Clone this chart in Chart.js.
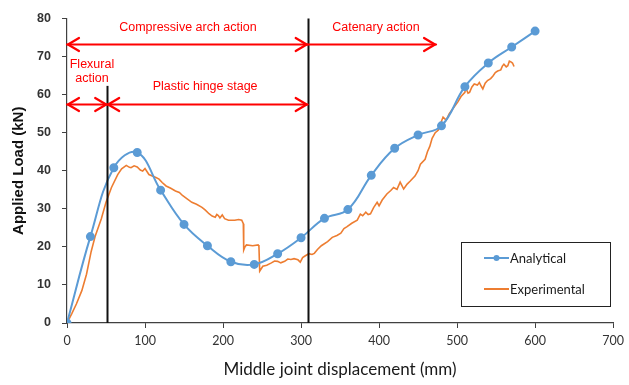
<!DOCTYPE html>
<html>
<head>
<meta charset="utf-8">
<script src="https://cdn.jsdelivr.net/npm/chart.js@4.4.1/dist/chart.umd.min.js"></script>
<style>
  html, body { margin: 0; padding: 0; background: #fff; }
  #wrap { width: 629px; height: 385px; }
</style>
</head>
<body>
<div id="wrap"><canvas id="chart" width="629" height="385"></canvas></div>
<script>
// ── Data ─────────────────────────────────────────────────────────────────────
const ANA_X = [0, 30, 60, 90, 120, 150, 180, 210, 240, 270, 300, 330, 360, 390, 420, 450, 480, 510, 540, 570, 600];
const ANA_Y = [0, 22.7, 40.8, 44.8, 34.9, 25.9, 20.3, 16.1, 15.4, 18.2, 22.4, 27.5, 29.8, 38.8, 45.9, 49.4, 51.8, 62.1, 68.3, 72.5, 76.7];

const EXP_X = [0, 6, 12, 19, 25, 31, 36, 44, 50, 57, 65, 70, 76, 80, 82, 86, 90, 94, 97, 100, 105, 114, 118, 122, 127,
  133, 139, 144, 148, 154, 160, 166, 173, 177, 182, 186, 190, 192, 194, 196, 199, 202, 207, 215, 220, 224, 226, 226.5,
  228, 230, 238, 245, 246, 247, 251, 256, 262, 266, 270, 274, 279, 283, 287, 291, 296, 299, 302, 305, 310, 314, 317,
  321, 326, 334, 340, 346, 351, 355, 359, 365, 372, 376, 379, 383, 386, 389, 393, 397.5, 400, 404, 410, 415, 418.6,
  423, 427, 429, 431.5, 436, 440, 446, 450, 453, 459, 462, 465, 468, 472, 476, 479, 482, 486, 490, 495, 501, 505, 510,
  511, 514, 516, 519, 522, 526, 528.5, 531, 533, 536, 539, 543, 546, 549, 552, 556, 558, 560, 563, 565, 567, 569, 571, 573];
const EXP_Y = [0, 2.4, 5, 8.5, 12.8, 18.8, 22.7, 27.4, 31.7, 35.6, 39, 40.5, 41.4, 40.9, 40.8, 41.3, 41, 40.2, 39.9, 40.6,
  39, 38.2, 37.8, 36.9, 36, 35.4, 34.7, 34.3, 33.5, 32.6, 31.7, 31.2, 30.4, 29.7, 28.7, 28.1, 27.8, 28.5, 28.2, 27.6,
  28.4, 27.4, 27, 27, 27.2, 27, 26.1, 19.2, 20, 20.5, 20.3, 20.5, 20.2, 13.6, 14.9, 15.2, 15.8, 16.3, 16.2, 15.8, 16.2,
  16.8, 16.7, 16.9, 16.6, 16, 17.2, 17.6, 18.2, 18, 18.3, 19.3, 20.3, 21.4, 22.5, 23, 23.6, 24.8, 25.3, 26.2, 27, 28.6,
  28.2, 29.1, 28.5, 28.7, 30.3, 31.7, 30.8, 32.3, 33.9, 34.8, 35.6, 35.1, 37, 36.2, 35.2, 36.5, 37.3, 38.6, 40, 41.7,
  43, 45, 46.4, 48.5, 50, 50.7, 52.5, 54.1, 53.3, 55, 56.4, 58.1, 59.5, 60.6, 61.8, 60.4, 60.6, 62, 62.8, 62.5, 63.2,
  62.2, 61.5, 63, 63.7, 64.2, 64.9, 65.8, 66.2, 66.5, 67.5, 68, 67.3, 67.6, 68.8, 68.6, 68.3, 67.4];

const SERIES_NAMES = ['Analytical', 'Experimental'];
const X_TICKS = [0, 100, 200, 300, 400, 500, 600, 700];
const Y_TICKS = [0, 10, 20, 30, 40, 50, 60, 70, 80];

// stage boundaries: [x, top of line]
const STAGE_LINES = [[51.5, 62.3], [308.5, 80]];
// arrows: [from x, to x, load level, head at start, head at end]
const STAGE_ARROWS = [[0, 308.5, 73.3, true, true], [308.5, 473, 73.3, false, true],
                      [0, 51.5, 57.6, true, true], [51.5, 308.5, 57.6, true, true]];
// labels: [text, centre x, load level]
const STAGE_LABELS = [['Compressive arch action', 155, 77.6], ['Catenary action', 396, 77.6],
                      ['Flexural', 32, 68], ['action', 32, 64.3], ['Plastic hinge stage', 177, 62]];

const BLUE = '#5B9BD5', ORANGE = '#ED7D31', RED = '#FF0000', AXIS = '#404040';

// ── Annotations + boxed legend ───────────────────────────────────────────────
const stagePlugin = {
  id: 'stages',
  afterDatasetsDraw(chart) {
    const { ctx, scales: { x, y } } = chart;
    ctx.save();
    ctx.strokeStyle = '#111'; ctx.lineWidth = 2;
    STAGE_LINES.forEach(([xv, top]) => {
      const px = Math.round(x.getPixelForValue(xv)) + 0.5;
      ctx.beginPath(); ctx.moveTo(px, y.getPixelForValue(0)); ctx.lineTo(px, y.getPixelForValue(top)); ctx.stroke();
    });
    ctx.strokeStyle = RED; ctx.lineWidth = 2.2; ctx.lineCap = 'round'; ctx.lineJoin = 'round';
    const hl = 12, hh = 6.5;
    STAGE_ARROWS.forEach(([a, b, lv, hs, he]) => {
      const x1 = x.getPixelForValue(a), x2 = x.getPixelForValue(b), py = Math.round(y.getPixelForValue(lv)) + 0.5;
      ctx.beginPath(); ctx.moveTo(x1, py); ctx.lineTo(x2, py); ctx.stroke();
      if (hs) { ctx.beginPath(); ctx.moveTo(x1 + hl, py - hh); ctx.lineTo(x1 + 1, py); ctx.lineTo(x1 + hl, py + hh); ctx.stroke(); }
      if (he) { ctx.beginPath(); ctx.moveTo(x2 - hl, py - hh); ctx.lineTo(x2 - 1, py); ctx.lineTo(x2 - hl, py + hh); ctx.stroke(); }
    });
    ctx.fillStyle = RED; ctx.font = '12.5px "Liberation Sans", Arial, sans-serif';
    ctx.textAlign = 'center'; ctx.textBaseline = 'middle';
    STAGE_LABELS.forEach(([t, xv, lv]) => ctx.fillText(t, x.getPixelForValue(xv), y.getPixelForValue(lv)));
    ctx.restore();
  },
  afterDraw(chart) {
    const { ctx } = chart;
    ctx.save();
    ctx.fillStyle = '#fff'; ctx.fillRect(461, 242, 149, 64);
    ctx.strokeStyle = '#222'; ctx.lineWidth = 1; ctx.strokeRect(461.5, 242.5, 149, 64);
    const rows = [[BLUE, 258, true], [ORANGE, 289, false]];
    ctx.font = '13px Lato, sans-serif'; ctx.textBaseline = 'middle'; ctx.textAlign = 'left';
    rows.forEach(([col, ry, dot], i) => {
      ctx.strokeStyle = col; ctx.lineWidth = 2;
      ctx.beginPath(); ctx.moveTo(484, ry); ctx.lineTo(509, ry); ctx.stroke();
      if (dot) { ctx.fillStyle = col; ctx.beginPath(); ctx.arc(496.5, ry, 3, 0, Math.PI * 2); ctx.fill(); }
      ctx.fillStyle = '#1a1a1a'; ctx.fillText(SERIES_NAMES[i], 510, ry + 1);
    });
    ctx.restore();
  }
};

new Chart(document.getElementById('chart'), {
  type: 'line',
  data: {
    datasets: [
      { label: SERIES_NAMES[0], data: ANA_X.map((v, i) => ({ x: v, y: ANA_Y[i] })),
        borderColor: BLUE, backgroundColor: BLUE, borderWidth: 2, pointRadius: 3.5, pointHoverRadius: 3.5,
        tension: 0.4, fill: false, order: 1 },
      { label: SERIES_NAMES[1], data: EXP_X.map((v, i) => ({ x: v, y: EXP_Y[i] })),
        borderColor: ORANGE, backgroundColor: ORANGE, borderWidth: 1.6, pointRadius: 0,
        tension: 0, fill: false, order: 2 },
    ]
  },
  options: {
    responsive: false, animation: false, devicePixelRatio: 1,
    layout: { padding: { top: 15, right: 11, left: 0, bottom: 0 } },
    plugins: { legend: { display: false }, tooltip: { enabled: false } },
    scales: {
      x: {
        type: 'linear', min: 0, max: 700,
        afterBuildTicks: s => { s.ticks = X_TICKS.map(v => ({ value: v })); },
        afterFit: s => { s.height = 62; },
        grid: { display: true, drawOnChartArea: false, tickLength: 5, color: AXIS },
        border: { display: true, color: AXIS, width: 1.2 },
        ticks: { color: '#333', font: { family: 'Lato', size: 12.5 }, padding: 5, maxRotation: 0 },
        title: { display: true, text: 'Middle joint displacement (mm)', color: '#1a1a1a',
                 font: { family: 'Lato', size: 17 }, padding: { top: 0, bottom: 5 } }
      },
      y: {
        type: 'linear', min: 0, max: 80,
        afterBuildTicks: s => { s.ticks = Y_TICKS.map(v => ({ value: v })); },
        afterFit: s => { s.width = 67; },
        grid: { display: true, drawOnChartArea: false, tickLength: 5, color: AXIS },
        border: { display: true, color: AXIS, width: 1.2 },
        ticks: { color: '#333', font: { family: '"Liberation Sans"', size: 12.5, weight: 'bold' }, padding: 11 },
        title: { display: true, text: 'Applied Load (kN)', color: '#111',
                 font: { family: '"Liberation Sans"', size: 15, weight: 'bold' }, padding: { top: 10, bottom: 0 } }
      }
    }
  },
  plugins: [stagePlugin]
});
</script>
</body>
</html>
